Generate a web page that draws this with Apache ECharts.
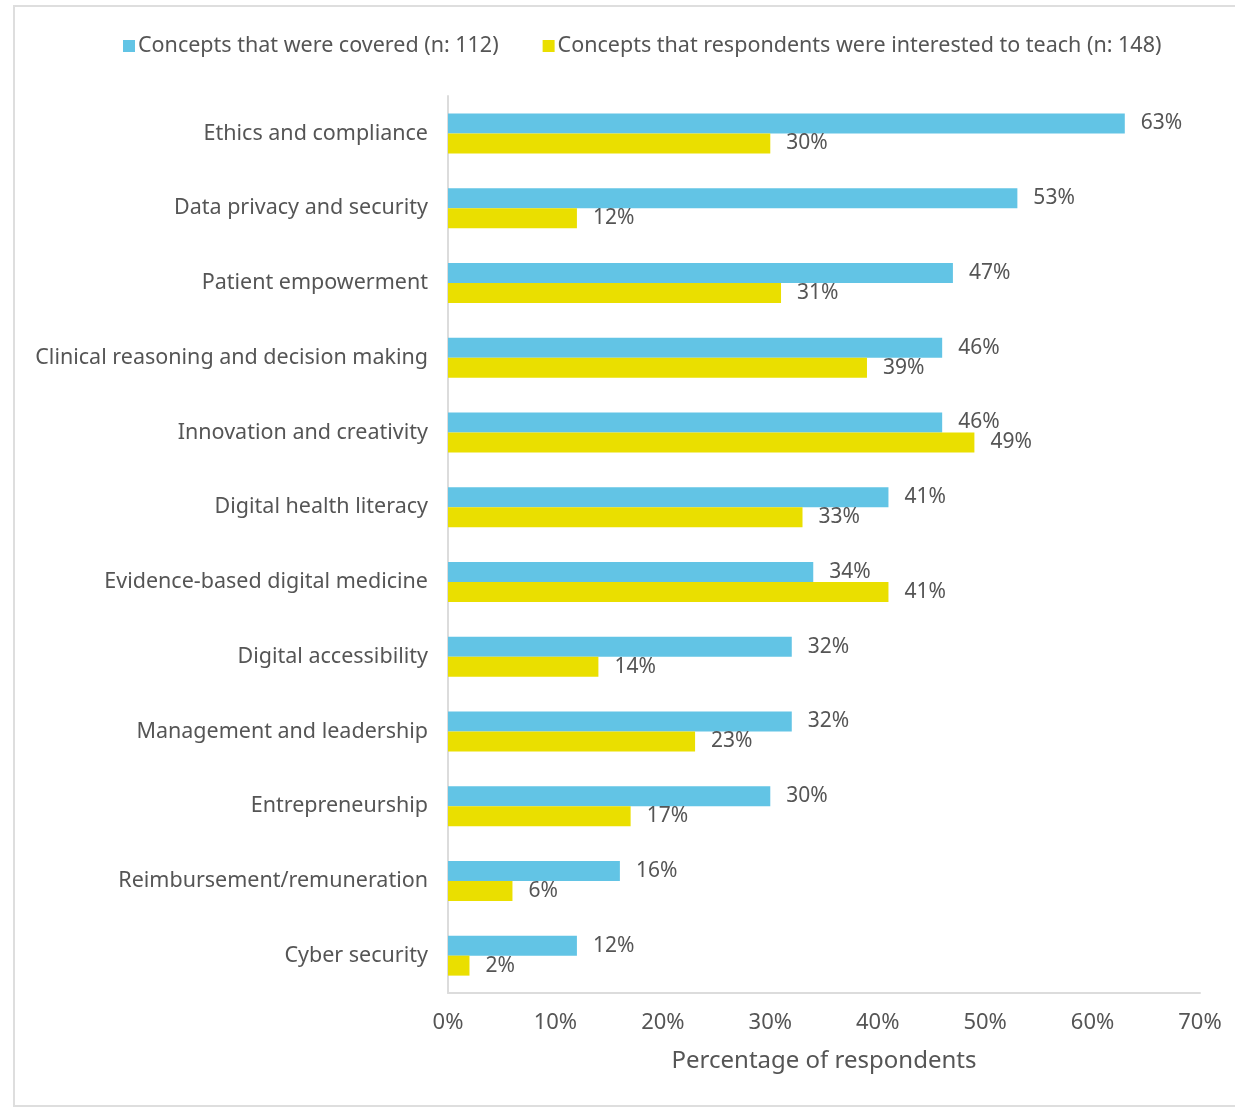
<!DOCTYPE html>
<html>
<head>
<meta charset="utf-8">
<script src="https://cdn.jsdelivr.net/npm/echarts@6/dist/echarts.min.js"></script>
<style>html,body{margin:0;padding:0;background:#fff}#c{width:1235px;height:1108px}</style>
</head>
<body>
<div id="c"></div>
<script>
const categories = ["Ethics and compliance","Data privacy and security","Patient empowerment","Clinical reasoning and decision making","Innovation and creativity","Digital health literacy","Evidence-based digital medicine","Digital accessibility","Management and leadership","Entrepreneurship","Reimbursement/remuneration","Cyber security"];
const covered = [63,53,47,46,46,41,34,32,32,30,16,12];
const interested = [30,12,31,39,49,33,41,14,23,17,6,2];
const seriesNames = ["Concepts that were covered (n: 112)","Concepts that respondents were interested to teach (n: 148)"];
const xTicks = {min:0, max:70, interval:10};

const font = "Noto Sans";
const txt = "#555";
const chart = echarts.init(document.getElementById('c'));
const lbl = {show:true, position:'right', distance:16, formatter:'{c}%', fontFamily:font, fontSize:21, color:txt};
chart.setOption({
  animation:false,
  textStyle:{fontFamily:font},
  graphic:[{type:'rect', shape:{x:14,y:6,width:1240,height:1100}, style:{fill:'none', stroke:'#dedede', lineWidth:2}}],
  legend:{top:30, left:118, itemWidth:12, itemHeight:12, itemGap:44, icon:'rect',
    textStyle:{fontFamily:font, fontSize:21.5, color:txt, padding:[0,0,0,-2]}},
  grid:{left:448, right:35, top:96, bottom:115, containLabel:false},
  xAxis:{type:'value', min:xTicks.min, max:xTicks.max, interval:xTicks.interval,
    name:'Percentage of respondents', nameLocation:'middle', nameGap:56,
    nameTextStyle:{fontFamily:font, fontSize:24, color:txt},
    axisLine:{show:true, lineStyle:{color:'#dcdcdc', width:2}},
    axisTick:{show:false}, splitLine:{show:false},
    axisLabel:{formatter:'{value}%', fontFamily:font, fontSize:22, color:txt, margin:19}},
  yAxis:{type:'category', data:categories, inverse:true,
    axisLine:{show:true, lineStyle:{color:'#dcdcdc', width:2}},
    axisTick:{show:false},
    axisLabel:{fontFamily:font, fontSize:21.5, color:txt, margin:20}},
  series:[
    {name:seriesNames[0], type:'bar', data:covered, barWidth:20, barGap:'0%', itemStyle:{color:'#62C4E5'}, label:lbl},
    {name:seriesNames[1], type:'bar', data:interested, barWidth:20, barGap:'0%', itemStyle:{color:'#EADF00'}, label:lbl}
  ]
});
</script>
</body>
</html>
